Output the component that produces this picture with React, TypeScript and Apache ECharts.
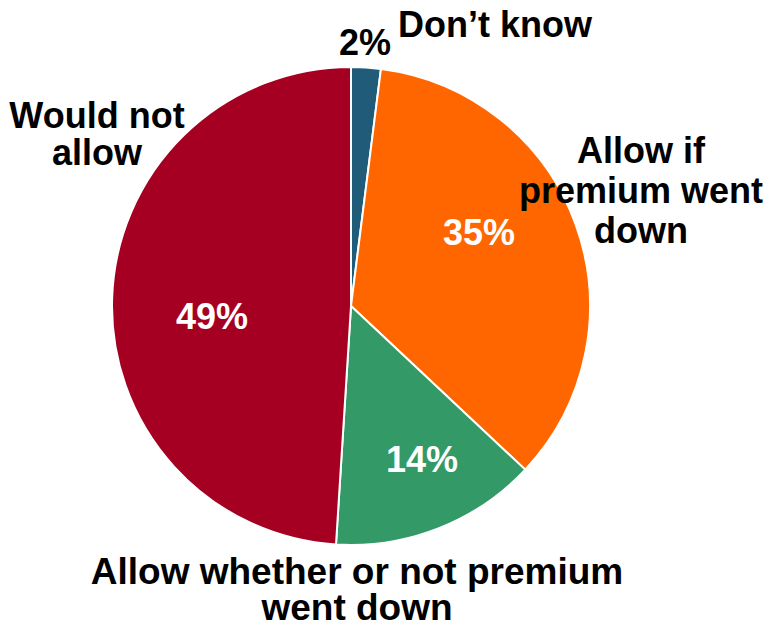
import React, { useEffect, useRef } from "react";
import * as echarts from "echarts";

const categories = ["Don’t know", "Allow if premium went down", "Allow whether or not premium went down", "Would not allow"];
const displayNames = ["Don’t know", "Allow if\npremium went\ndown", "Allow whether or not premium\nwent down", "Would not\nallow"];
const values = [2, 35, 14, 49];
const colors = ["#215B7A", "#FF6600", "#339966", "#A50021"];
const pctColors = ["#000000", "#FFFFFF", "#FFFFFF", "#FFFFFF"];

// label anchor positions (layout only)
const pctPos = [
  { x: 365, y: 42, align: "center" },
  { x: 479, y: 232, align: "center" },
  { x: 422, y: 459, align: "center" },
  { x: 212, y: 316, align: "center" },
];
const namePos = [
  { x: 398, y: 24, align: "left", lh: 39, fs: 36 },
  { x: 641, y: 190, align: "center", lh: 40, fs: 36 },
  { x: 357, y: 589, align: "center", lh: 36, fs: 37 },
  { x: 97, y: 134, align: "center", lh: 37, fs: 36 },
];

const FONT = "'Liberation Sans', Arial, sans-serif";

export default function App() {
  const ref = useRef<HTMLDivElement>(null);
  useEffect(() => {
    if (!ref.current) return;
    const chart = echarts.init(ref.current, null, { renderer: "svg" });
    const center = [351, 306];
    const radius = 239;
    chart.setOption({
      animation: false,
      backgroundColor: "#ffffff",
      series: [
        {
          type: "pie",
          center,
          radius,
          startAngle: 90,
          clockwise: true,
          silent: true,
          itemStyle: { borderColor: "#ffffff", borderWidth: 2 },
          labelLine: { show: false },
          label: {
            show: true,
            position: "inside",
            formatter: "{c}%",
            fontFamily: FONT,
            fontWeight: "bold",
            fontSize: 36,
          },
          labelLayout: (p: any) => ({
            x: pctPos[p.dataIndex].x,
            y: pctPos[p.dataIndex].y,
            align: pctPos[p.dataIndex].align,
            verticalAlign: "middle",
          }),
          data: categories.map((c, i) => ({
            name: c,
            value: values[i],
            itemStyle: { color: colors[i] },
            label: { color: pctColors[i] },
          })),
        },
        {
          type: "pie",
          center,
          radius,
          startAngle: 90,
          clockwise: true,
          silent: true,
          z: 5,
          itemStyle: { color: "rgba(0,0,0,0)", borderWidth: 0 },
          labelLine: { show: false },
          label: {
            show: true,
            position: "inside",
            formatter: (p: any) => displayNames[p.dataIndex],
            color: "#000000",
            fontFamily: FONT,
            fontWeight: "bold",
            fontSize: 36,
            overflow: "none",
          },
          labelLayout: (p: any) => ({
            x: namePos[p.dataIndex].x,
            y: namePos[p.dataIndex].y,
            align: namePos[p.dataIndex].align,
            verticalAlign: "middle",
          }),
          data: categories.map((c, i) => ({
            name: c,
            value: values[i],
            label: {
              lineHeight: namePos[i].lh,
              fontSize: namePos[i].fs,
              textBorderWidth: 0,
            },
          })),
        },
      ],
    });
    return () => chart.dispose();
  }, []);
  return (
    <div
      ref={ref}
      style={{ position: "absolute", left: 0, top: 0, width: 769, height: 628 }}
    />
  );
}
